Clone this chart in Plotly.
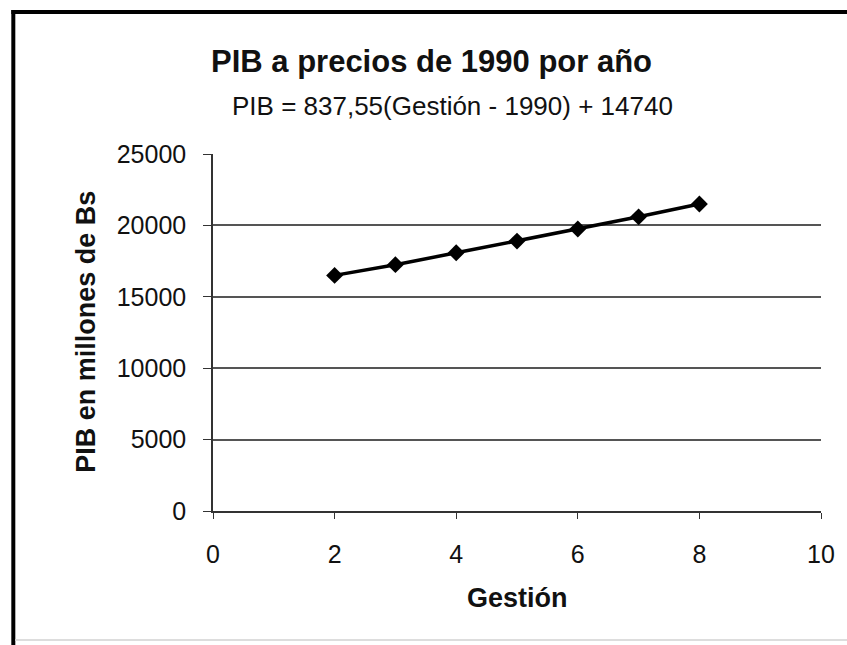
import plotly.graph_objects as go

# Data
gestion = [2, 3, 4, 5, 6, 7, 8]
pib = [16500, 17250, 18080, 18900, 19750, 20600, 21500]

title_text = "PIB a precios de 1990 por año"
subtitle_text = "PIB = 837,55(Gestión - 1990) + 14740"
x_title = "Gestión"
y_title = "PIB en millones de Bs"
y_ticks = [0, 5000, 10000, 15000, 20000, 25000]
x_ticks = [0, 2, 4, 6, 8, 10]

FONT = "Arial, Liberation Sans, sans-serif"

W, H = 847, 645
L, R, T, B = 213, 22, 154, 134
PW = W - L - R
PH = H - T - B

def px_x(p):
    return (p - L) / PW

def px_y(p):
    return (H - B - p) / PH

fig = go.Figure()
fig.add_trace(go.Scatter(
    x=gestion, y=pib, mode="lines+markers",
    line=dict(color="black", width=3.5),
    marker=dict(symbol="diamond", size=13, color="black"),
    showlegend=False,
))

fig.update_layout(
    width=W, height=H,
    margin=dict(l=L, r=R, t=T, b=B),
    paper_bgcolor="white", plot_bgcolor="white",
    font=dict(family=FONT, color="black"),
    xaxis=dict(
        range=[0, 10], tickvals=x_ticks, ticks="outside", ticklen=6,
        tickcolor="#333", showgrid=False, zeroline=False,
        showline=True, linecolor="#333", linewidth=1.5,
        tickfont=dict(size=25, family=FONT, color="#111"),
        ticklabelstandoff=14,
    ),
    yaxis=dict(
        range=[0, 25000], tickvals=y_ticks, tickformat="d",
        ticks="outside", ticklen=8,
        tickcolor="#333", showgrid=True, gridcolor="#555", gridwidth=1.5,
        zeroline=False, showline=True, linecolor="#333", linewidth=1.5,
        tickfont=dict(size=25, family=FONT, color="#111"),
        ticklabelstandoff=12,
    ),
    annotations=[
        dict(text="<b>" + title_text + "</b>", xref="paper", yref="paper",
             x=px_x(433), y=px_y(61), xanchor="center", yanchor="middle",
             showarrow=False, font=dict(size=31, family=FONT, color="#111")),
        dict(text=subtitle_text, xref="paper", yref="paper",
             x=px_x(454), y=px_y(106), xanchor="center", yanchor="middle",
             showarrow=False, font=dict(size=26, family=FONT, color="#111")),
        dict(text="<b>" + x_title + "</b>", xref="paper", yref="paper",
             x=px_x(519), y=px_y(598), xanchor="center", yanchor="middle",
             showarrow=False, font=dict(size=27, family=FONT, color="#111")),
        dict(text="<b>" + y_title + "</b>", xref="paper", yref="paper",
             x=px_x(85), y=px_y(332), xanchor="center", yanchor="middle",
             textangle=-90, showarrow=False,
             font=dict(size=27, family=FONT, color="#111")),
    ],
    shapes=[
        dict(type="line", xref="paper", yref="paper",
             x0=px_x(10), x1=px_x(860), y0=px_y(12), y1=px_y(12),
             line=dict(color="black", width=4)),
        dict(type="line", xref="paper", yref="paper",
             x0=px_x(12), x1=px_x(12), y0=px_y(10), y1=px_y(650),
             line=dict(color="black", width=4)),
        dict(type="line", xref="paper", yref="paper",
             x0=px_x(14), x1=px_x(860), y0=px_y(640), y1=px_y(640),
             line=dict(color="#dddddd", width=2)),
    ],
)

fig.write_html(
    "out.html",
    config={"displayModeBar": False},
    post_script="document.body.style.margin='0';document.body.style.overflow='hidden';",
)
